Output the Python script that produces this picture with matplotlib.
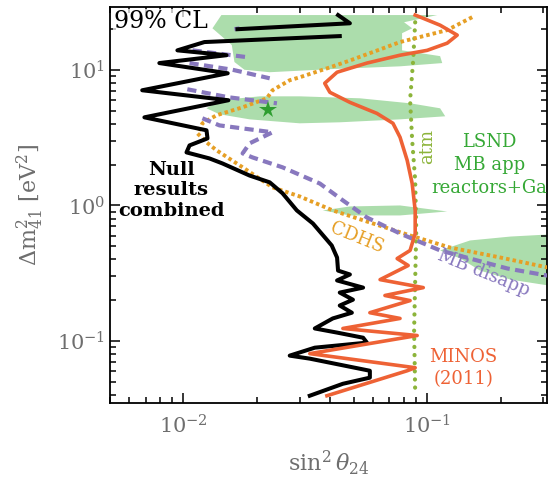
import numpy as np
import matplotlib.pyplot as plt

plt.rcParams['font.family'] = 'DejaVu Serif'
plt.rcParams['mathtext.fontset'] = 'dejavuserif'

nan = np.nan

# Null results combined (black), pieces separated by nan
null_x = [0.0431, 0.0482, 0.01667, nan,
          0.0438, 0.0122, 0.00945, 0.01503, 0.00797, 0.0152, 0.00678, 0.0153, 0.00692,
          0.01244, 0.01256, 0.0106, 0.0103, 0.0128, 0.01446, 0.0187, 0.0226, 0.0255,
          0.0292, 0.0340, 0.0406, 0.0427, 0.0431, 0.0482, 0.0427, 0.0546, 0.0438,
          0.0496, 0.0438, 0.0491, 0.0410, 0.0346, 0.0427, 0.0546, 0.0566, 0.0346,
          0.0273, 0.0330, 0.0582, 0.0582, 0.0451, 0.0330]
null_y = [25.3, 22.0, 19.9, nan,
          17.7, 16.0, 13.9, 12.8, 11.2, 9.42, 7.06, 5.96, 4.46,
          3.58, 3.12, 2.77, 2.46, 2.22, 2.04, 1.66, 1.48, 1.23,
          0.919, 0.736, 0.507, 0.413, 0.331, 0.310, 0.280, 0.248, 0.228,
          0.202, 0.183, 0.162, 0.147, 0.124, 0.1156, 0.106, 0.0975, 0.0895,
          0.0782, 0.0743, 0.0605, 0.0538, 0.0485, 0.0396]

# MINOS (2011)
minos_x = [0.0893, 0.113, 0.1328, 0.1208, 0.1, 0.0774, 0.0566, 0.0427, 0.0380, 0.0399,
           0.0482, 0.0622, 0.0724, 0.0774, 0.0828, 0.0868, 0.0893, 0.0893, 0.0851,
           0.0753, 0.0836, 0.0641, 0.0964, 0.0671, 0.0851, 0.0582, 0.0774, 0.0451,
           0.0910, 0.0330, 0.0893, 0.0828, 0.0388]
minos_y = [25.3, 21.3, 18.0, 15.7, 13.9, 12.8, 11.2, 9.59, 7.95, 6.82,
           5.75, 4.77, 4.03, 3.18, 2.15, 1.45, 0.919, 0.621, 0.466,
           0.406, 0.361, 0.284, 0.248, 0.217, 0.199, 0.162, 0.147, 0.124,
           0.110, 0.0809, 0.0637, 0.0605, 0.0396]

# atmospheric
atm_x = [0.0893, 0.0876, 0.0851, 0.0868, 0.0893, 0.0902, 0.0893, 0.0884, 0.0893]
atm_y = [22.4, 11.7, 5.96, 3.02, 1.53, 0.654, 0.280, 0.120, 0.0417]

# CDHS
cdhs_x = [0.153, 0.1208, 0.0774, 0.0482, 0.0392, 0.0300, 0.0273, 0.0232, 0.0220, 0.0175,
          0.01368, 0.01197, 0.01142, 0.01244, 0.01368, 0.0175, 0.0232, 0.0300, 0.0410,
          0.0600, 0.0851, 0.124, 0.200, 0.312]
cdhs_y = [24.4, 19.6, 16.0, 11.7, 10.3, 8.80, 8.37, 7.06, 6.16, 5.29,
          4.62, 4.03, 3.40, 2.92, 2.55, 1.91, 1.36, 1.165, 0.919,
          0.736, 0.601, 0.490, 0.413, 0.349]

# MiniBooNE disappearance
mb_x = [0.0162, 0.0170, nan, 0.0109, 0.01815, nan, 0.0106, 0.0159, 0.0226, nan,
        0.01038, 0.0153, 0.0242, nan, 0.01197, 0.01406, 0.0232, 0.0187, 0.0175, 0.0192,
        0.0255, 0.0363, 0.0451, 0.0566, 0.0774, 0.113, 0.1606, 0.2134, 0.312]
mb_y = [19.9, 20.2, nan, 13.9, 12.4, nan, 11.2, 10.0, 8.65, nan,
        7.18, 6.27, 5.66, nan, 4.39, 3.89, 3.46, 2.87, 2.42, 2.26,
        1.91, 1.45, 1.09, 0.815, 0.621, 0.466, 0.393, 0.343, 0.304]

# LSND + MB app + reactors + Ga allowed regions
reg1_x = [0.01432, 0.110, 0.0804, 0.0868, 0.0789, 0.0789, 0.113, 0.1153, 0.0774, 0.0399,
          0.0226, 0.0178, 0.0162, 0.0158, 0.01316]
reg1_y = [25.3, 25.3, 22.4, 20.2, 18.6, 13.9, 12.6, 11.2, 10.6, 10.1,
          9.59, 10.0, 11.4, 15.2, 20.2]
reg2_x = [0.01244, 0.01406, 0.0206, 0.0300, 0.0530, 0.0851, 0.113, 0.1186, 0.0774, 0.0438,
          0.0300, 0.0187, 0.01406]
reg2_y = [5.20, 5.96, 6.37, 6.37, 6.16, 5.66, 5.20, 4.54, 4.31, 4.10,
          4.03, 4.31, 4.70]
reg3_x = [0.0373, 0.0482, 0.0774, 0.1208, 0.0774, 0.0482]
reg3_y = [0.919, 0.983, 1.0, 0.903, 0.844, 0.844]
reg4_x = [0.113, 0.150, 0.220, 0.315, 0.315, 0.220, 0.165, 0.137]
reg4_y = [0.466, 0.552, 0.590, 0.611, 0.257, 0.284, 0.331, 0.406]

best_fit = (0.0222, 5.02)

c_black = 'black'
c_minos = '#EE6235'
c_atm = '#8CB43A'
c_cdhs = '#E69F25'
c_mb = '#8878BE'
c_fill = '#ACDDAC'
c_lsnd = '#35A835'
c_tick = '#6E6E6E'

fig = plt.figure(figsize=(5.48, 4.8), dpi=100)
ax = fig.add_axes([0.2007, 0.1604, 0.7974, 0.825])
ax.set_xscale('log')
ax.set_yscale('log')

for rx, ry in [(reg1_x, reg1_y), (reg2_x, reg2_y), (reg3_x, reg3_y), (reg4_x, reg4_y)]:
    ax.fill(rx, ry, color=c_fill, lw=0, zorder=1)

ax.plot(atm_x, atm_y, color=c_atm, lw=3, linestyle=(0, (0.05, 1.9)),
        dash_capstyle='round', zorder=2)
ax.plot(cdhs_x, cdhs_y, color=c_cdhs, lw=2.8, linestyle=(0, (0.9, 0.8)), zorder=3)
ax.plot(mb_x, mb_y, color=c_mb, lw=3, linestyle=(0, (2.2, 1.3)), zorder=3)
ax.plot(null_x, null_y, color=c_black, lw=2.9, zorder=4)
ax.plot(minos_x, minos_y, color=c_minos, lw=2.6, zorder=5)
ax.plot(*best_fit, marker='*', color='#2E9E30', ms=13, mew=0, zorder=6)

ax.set_xlim(0.005, 0.31)
ax.set_ylim(0.035, 29)

ax.text(0.0052, 27.5, '99% CL', fontsize=17, va='top', ha='left', zorder=7,
        bbox=dict(facecolor='white', edgecolor='none', alpha=0.7, pad=1))
ax.text(0.00893, 1.29, 'Null\nresults\ncombined', fontsize=14, fontweight='bold',
        ha='center', va='center', linespacing=1.2)
ax.text(0.180, 1.99, 'LSND\nMB app\nreactors+Ga', fontsize=13, color=c_lsnd,
        ha='center', va='center', linespacing=1.35)
ax.text(0.100, 2.73, 'atm', fontsize=13, color=c_atm, rotation=90,
        ha='center', va='center')
ax.text(0.0515, 0.58, 'CDHS', fontsize=13, color=c_cdhs, rotation=-22,
        ha='center', va='center')
ax.text(0.170, 0.32, 'MB disapp', fontsize=13, color=c_mb, rotation=-22,
        ha='center', va='center')
ax.text(0.1406, 0.0637, 'MINOS\n(2011)', fontsize=13, color=c_minos,
        ha='center', va='center', linespacing=1.3)

ax.set_xlabel(r'$\sin^2\theta_{24}$', fontsize=16, color=c_tick, labelpad=8)
ax.set_ylabel(r'$\Delta\mathrm{m}^2_{41}$ [eV$^2$]', fontsize=16, color=c_tick, labelpad=8)

ax.tick_params(which='both', direction='in', top=True, right=True,
               labelsize=15, labelcolor=c_tick, width=1.1)
ax.tick_params(which='major', length=7)
ax.tick_params(which='minor', length=4)
ax.tick_params(axis='x', pad=8)
for s in ax.spines.values():
    s.set_linewidth(1.3)

fig.savefig('out.png', dpi=100)
